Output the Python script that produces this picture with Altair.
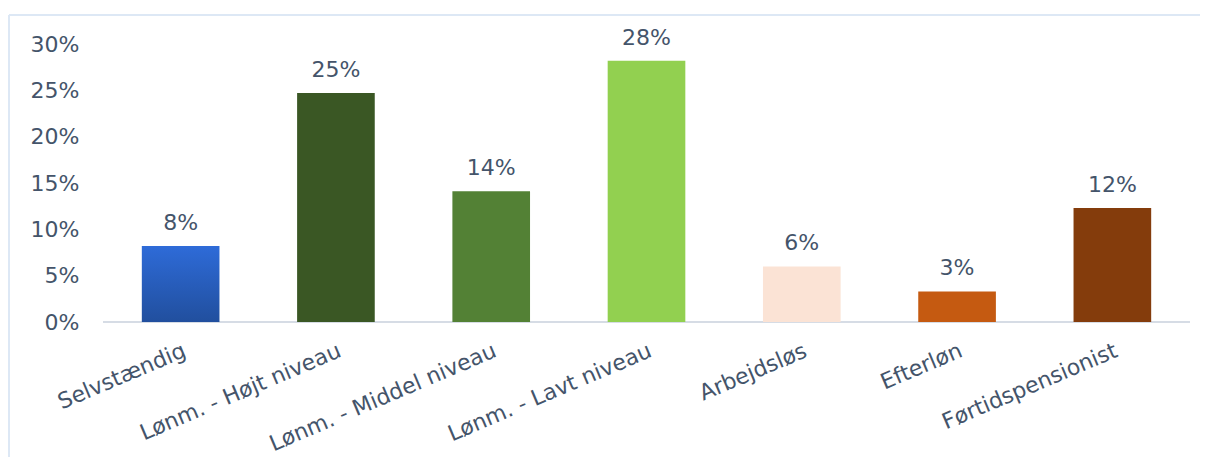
import altair as alt
import pandas as pd

categories = ["Selvstændig", "Lønm. - Højt niveau", "Lønm. - Middel niveau",
              "Lønm. - Lavt niveau", "Arbejdsløs", "Efterløn", "Førtidspensionist"]
values = [0.082, 0.247, 0.141, 0.282, 0.060, 0.033, 0.123]
labels = ["8%", "25%", "14%", "28%", "6%", "3%", "12%"]
colors = ["#2b63c8", "#3a5724", "#538135", "#92d050", "#fbe3d5", "#c55a11", "#843c0c"]
y_ticks = [0, 0.05, 0.10, 0.15, 0.20, 0.25, 0.30]

df = pd.DataFrame({"cat": categories, "val": values, "lbl": labels, "col": colors})

FONT = "DejaVu Sans"
TXT = "#44546a"
FS = 22

x = alt.X("cat:N", sort=categories, title=None,
          scale=alt.Scale(paddingInner=0.5, paddingOuter=0.25),
          axis=alt.Axis(labelAngle=-23, labelAlign="right", labelBaseline="top",
                        labelFontSize=FS, labelColor=TXT, labelFont=FONT,
                        labelPadding=18, ticks=False, domain=False,
                        labelLimit=400))
y = alt.Y("val:Q", title=None,
          scale=alt.Scale(domain=[0, 0.30], nice=False),
          axis=alt.Axis(values=y_ticks, format=".0%", labelFontSize=FS, labelColor=TXT,
                        labelFont=FONT, labelPadding=24, ticks=False, domain=False,
                        gridColor="#dde7f3", gridWidth=2))

base = alt.Chart(df)

bars = base.transform_filter(alt.datum.cat != categories[0]).mark_bar().encode(
    x=x, y=y,
    color=alt.Color("col:N", scale=None),
)

grad_bar = base.transform_filter(alt.datum.cat == categories[0]).mark_bar(
    color=alt.Gradient(gradient="linear", x1=0, x2=0, y1=0, y2=1,
                       stops=[alt.GradientStop(color="#2e6bd8", offset=0),
                              alt.GradientStop(color="#214f9e", offset=1)])
).encode(x=x, y=y)

text = base.mark_text(baseline="alphabetic", dy=-16, fontSize=FS, font=FONT, color=TXT).encode(
    x=alt.X("cat:N", sort=categories), y="val:Q", text="lbl:N")

zero = base.mark_rule(color="#d6dce5", strokeWidth=2).encode(
    y=alt.datum(0))

border_top = base.mark_rule(color="#dde8f5", strokeWidth=2, clip=False).encode(
    x=alt.value(-94), x2=alt.value(1110), y=alt.value(-29))
border_left = base.mark_rule(color="#dde8f5", strokeWidth=2, clip=False).encode(
    x=alt.value(-94), y=alt.value(-29), y2=alt.value(430))

chart = alt.layer(border_top, border_left, zero, bars, grad_bar, text).properties(
    width=1087, height=278,
    background="white",
    autosize=alt.AutoSizeParams(type="none"),
    padding={"left": 95, "top": 36, "right": 10, "bottom": 135},
).configure_view(strokeWidth=0)

chart.save("out.html", embed_options={"renderer": "svg", "actions": False})
